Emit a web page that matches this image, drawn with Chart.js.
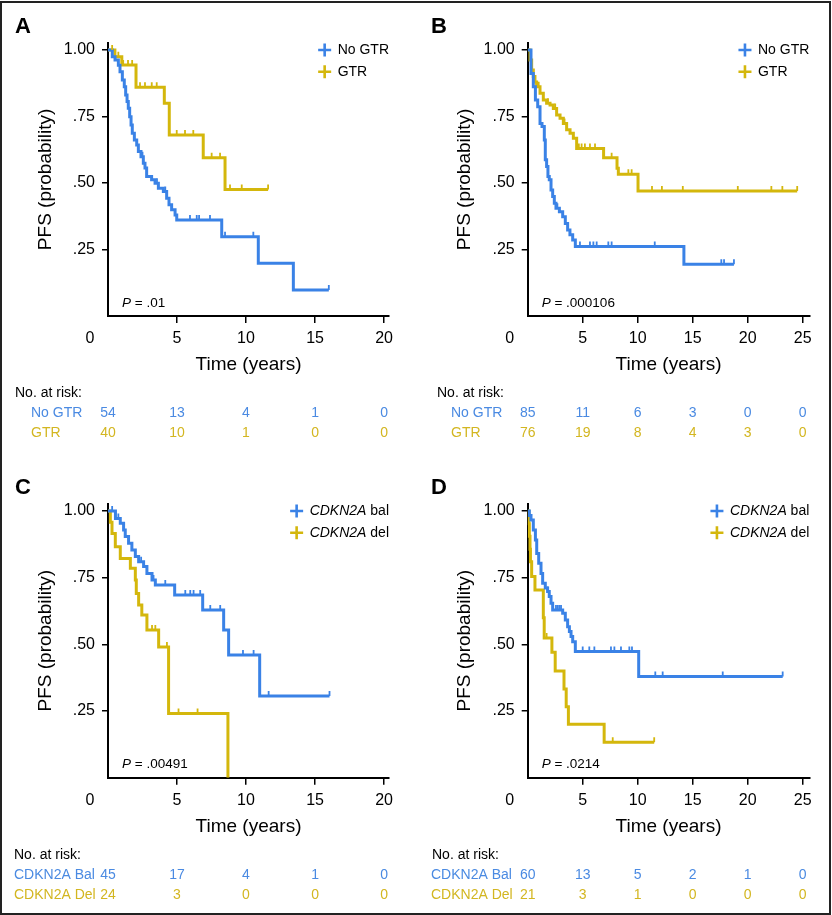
<!DOCTYPE html>
<html>
<head>
<meta charset="utf-8">
<script src="https://cdn.jsdelivr.net/npm/chart.js@4.4.0/dist/chart.umd.min.js"></script>
<style>
  body { margin: 0; background: #fff; }
  #fig { position: relative; width: 832px; height: 915px; overflow: hidden; }
  #fig canvas { position: absolute; }
  #frame { position: absolute; left: 0; top: 1px; width: 831px; height: 914px; box-sizing: border-box; border: 2px solid #222; pointer-events: none; }
</style>
</head>
<body>
<div id="fig">
  <canvas id="panelA" width="416" height="461" style="left:0;top:0;width:416px;height:461px"></canvas>
  <canvas id="panelB" width="416" height="461" style="left:416px;top:0;width:416px;height:461px"></canvas>
  <canvas id="panelC" width="416" height="454" style="left:0;top:461px;width:416px;height:454px"></canvas>
  <canvas id="panelD" width="416" height="454" style="left:416px;top:461px;width:416px;height:454px"></canvas>
  <div id="frame"></div>
</div>
<script>
// ---- axis ticks ----
const xTicks20 = [0, 5, 10, 15, 20];
const xTicks25 = [0, 5, 10, 15, 20, 25];
const yTickValues = [0.25, 0.5, 0.75, 1];
const yTickLabels = ['.25', '.50', '.75', '1.00'];

// ---- panel A: GTR vs no GTR ----
const aNoGtrTime = [0, 0.31, 0.51, 0.75, 0.87, 1.04, 1.18, 1.28, 1.38, 1.47, 1.57, 1.67, 1.76, 1.91, 2.08, 2.2, 2.39, 2.56, 2.68, 2.8, 3.16, 3.41, 3.65, 4.01, 4.25, 4.42, 4.61, 4.86, 4.98, 8.24, 10.89, 13.43, 16.0];
const aNoGtrSurv = [1, 0.975, 0.962, 0.943, 0.918, 0.887, 0.862, 0.831, 0.806, 0.781, 0.749, 0.718, 0.687, 0.662, 0.643, 0.618, 0.599, 0.574, 0.556, 0.524, 0.512, 0.499, 0.48, 0.468, 0.443, 0.418, 0.399, 0.38, 0.361, 0.298, 0.198, 0.098, 0.098];
const aNoGtrCens = [2.5, 3.55, 4.15, 5.94, 6.43, 6.6, 7.39, 8.48, 10.53, 16.0];
const aGtrTime = [0, 0.5, 1.0, 2.03, 4.08, 4.44, 6.9, 8.48, 11.6];
const aGtrSurv = [1, 0.975, 0.944, 0.86, 0.8, 0.68, 0.595, 0.476, 0.476];
const aGtrCens = [0.3, 0.75, 1.1, 1.45, 1.75, 2.32, 2.68, 3.17, 3.53, 4.98, 5.58, 6.18, 7.51, 8.12, 8.84, 9.69, 11.6];
const aRiskNoGtr = [54, 13, 4, 1, 0];
const aRiskGtr = [40, 10, 1, 0, 0];

// ---- panel B: GTR vs no GTR ----
const bNoGtrTime = [0, 0.3, 0.51, 0.7, 0.91, 1.12, 1.3, 1.51, 1.6, 1.72, 1.84, 1.96, 2.12, 2.27, 2.42, 2.57, 2.88, 3.18, 3.42, 3.63, 3.84, 4.09, 4.33, 14.2, 18.75];
const bNoGtrSurv = [1, 0.912, 0.862, 0.812, 0.787, 0.724, 0.712, 0.662, 0.587, 0.562, 0.524, 0.512, 0.474, 0.449, 0.424, 0.405, 0.392, 0.373, 0.348, 0.323, 0.305, 0.286, 0.261, 0.195, 0.195];
const bNoGtrCens = [2.7, 3.2, 4.75, 5.66, 5.97, 6.27, 7.33, 7.63, 11.55, 17.6, 17.85, 18.75];
const bGtrTime = [0, 0.21, 0.36, 0.51, 0.66, 0.81, 1.12, 1.42, 1.72, 2.03, 2.33, 2.63, 2.94, 3.24, 3.54, 3.85, 4.15, 4.45, 6.9, 8.12, 8.24, 10.03, 24.5];
const bGtrSurv = [1, 0.962, 0.925, 0.9, 0.88, 0.862, 0.837, 0.812, 0.8, 0.793, 0.78, 0.756, 0.743, 0.724, 0.7, 0.687, 0.668, 0.63, 0.595, 0.555, 0.533, 0.47, 0.47];
const bGtrCens = [1.0, 1.85, 2.5, 3.35, 4.65, 4.9, 5.2, 5.66, 6.12, 7.63, 9.15, 9.45, 11.3, 12.2, 14.1, 19.1, 22.15, 23.15, 24.5];
const bRiskNoGtr = [85, 11, 6, 3, 0, 0];
const bRiskGtr = [76, 19, 8, 4, 3, 0];

// ---- panel C: CDKN2A balanced vs deleted ----
const cBalTime = [0, 0.54, 0.89, 1.13, 1.25, 1.49, 1.73, 1.98, 2.22, 2.58, 2.82, 3.19, 3.43, 4.83, 6.86, 8.38, 8.74, 10.99, 16.05];
const cBalSurv = [1, 0.972, 0.954, 0.929, 0.904, 0.879, 0.854, 0.829, 0.81, 0.792, 0.766, 0.741, 0.723, 0.685, 0.629, 0.554, 0.46, 0.306, 0.306];
const cBalCens = [0.3, 0.75, 2.4, 3.3, 4.15, 5.6, 5.96, 6.2, 6.68, 7.41, 8.13, 9.78, 10.55, 11.64, 16.05];
const cDelTime = [0, 0.17, 0.29, 0.53, 0.89, 1.62, 1.98, 2.05, 2.22, 2.45, 2.82, 3.67, 4.39, 8.69];
const cDelSurv = [1, 0.958, 0.916, 0.866, 0.822, 0.785, 0.741, 0.691, 0.648, 0.61, 0.554, 0.49, 0.241, 0];
const cDelCens = [3.19, 3.43, 4.27, 5.11, 6.49];
const cRiskBal = [45, 17, 4, 1, 0];
const cRiskDel = [24, 3, 0, 0, 0];

// ---- panel D: CDKN2A balanced vs deleted ----
const dBalTime = [0, 0.15, 0.3, 0.51, 0.7, 0.82, 1.0, 1.21, 1.36, 1.6, 1.81, 1.96, 2.12, 2.27, 3.18, 3.42, 3.63, 3.79, 3.94, 4.09, 4.33, 10.09, 23.18];
const dBalSurv = [1, 0.983, 0.966, 0.929, 0.891, 0.841, 0.804, 0.766, 0.729, 0.711, 0.698, 0.679, 0.654, 0.629, 0.617, 0.591, 0.566, 0.548, 0.529, 0.51, 0.473, 0.379, 0.379];
const dBalCens = [1.81, 2.57, 2.73, 2.88, 3.03, 5.0, 5.6, 6.06, 7.57, 7.88, 8.48, 9.24, 9.48, 11.6, 12.27, 17.73, 23.18];
const dDelTime = [0, 0.1, 0.15, 0.21, 0.25, 0.36, 0.66, 1.42, 1.5, 2.2, 2.5, 3.3, 3.5, 3.7, 6.95, 11.5];
const dDelSurv = [1, 0.952, 0.905, 0.857, 0.81, 0.754, 0.704, 0.6, 0.524, 0.47, 0.4, 0.333, 0.266, 0.2, 0.133, 0.133];
const dDelCens = [1.72, 7.73, 11.5];
const dRiskBal = [60, 13, 5, 2, 1, 0];
const dRiskDel = [21, 3, 1, 0, 0, 0];

const pValues = ['.01', '.000106', '.00491', '.0214'];

const FONT = '"Liberation Sans", Arial, Helvetica, sans-serif';
const BLUE = '#3a82e6';
const GOLD = '#d4b70c';
const BLUE_TXT = '#4a8ae2';
const GOLD_TXT = '#d3b620';

Chart.defaults.font.family = FONT;
Chart.defaults.color = '#000';

// survival value of the step curve at time t
function survAt(times, surv, t) {
    let s = surv[0];
    for (let i = 0; i < times.length; i++) {
        if (times[i] <= t) s = surv[i];
    }
    return s;
}

function curveSet(g) {
    return {
        data: g.times.map((t, i) => ({ x: t, y: g.surv[i] })),
        borderColor: g.color,
        borderWidth: 3,
        pointRadius: 0,
        stepped: 'before',
        fill: false
    };
}

function censorSet(g) {
    return {
        data: g.cens.map(c => ({ x: c, y: survAt(g.times, g.surv, c) })),
        showLine: false,
        pointStyle: 'dash',
        pointRotation: -90,
        pointRadius: 5,
        pointBorderWidth: 1.8,
        pointBorderColor: g.color,
        pointBackgroundColor: g.color
    };
}

// letter, legend, P value, "0" label and the at-risk table
function panelDecor(p) {
    return {
        id: 'panelDecor',
        afterDraw(chart) {
            const ctx = chart.ctx;
            const area = chart.chartArea;
            const xs = chart.scales.x;
            ctx.save();
            ctx.fillStyle = '#000';
            ctx.textBaseline = 'middle';

            ctx.font = 'bold 22px ' + FONT;
            ctx.textAlign = 'left';
            ctx.fillText(p.letter, 15, 27);

            ctx.font = '16px ' + FONT;
            ctx.textAlign = 'center';
            ctx.fillText('0', xs.getPixelForValue(0) - 18, xs.top + 7 + 6 + 9.6);

            // P value
            ctx.textAlign = 'left';
            const px = area.left + 14, py = area.bottom - 13;
            ctx.font = 'italic 13.5px ' + FONT;
            ctx.fillText('P', px, py);
            const pw = ctx.measureText('P').width;
            ctx.font = '13.5px ' + FONT;
            ctx.fillText(' = ' + p.pValue, px + pw, py);

            // legend
            const widths = p.groups.map(g => {
                ctx.font = 'italic 14px ' + FONT;
                const w1 = g.legend[0] ? ctx.measureText(g.legend[0]).width : 0;
                ctx.font = '14px ' + FONT;
                return w1 + ctx.measureText(g.legend[1]).width;
            });
            const tx = area.right - Math.max(...widths);
            p.groups.forEach((g, i) => {
                const y = area.top + 7.2 + i * 21.8;
                ctx.strokeStyle = g.color;
                ctx.lineWidth = 2.6;
                ctx.beginPath();
                ctx.moveTo(tx - 19.5, y); ctx.lineTo(tx - 6.5, y);
                ctx.moveTo(tx - 13, y - 6.5); ctx.lineTo(tx - 13, y + 6.5);
                ctx.stroke();
                ctx.fillStyle = '#000';
                let x = tx;
                if (g.legend[0]) {
                    ctx.font = 'italic 14px ' + FONT;
                    ctx.fillText(g.legend[0], x, y);
                    x += ctx.measureText(g.legend[0]).width;
                }
                ctx.font = '14px ' + FONT;
                ctx.fillText(g.legend[1], x, y);
            });

            // number at risk
            ctx.font = '14px ' + FONT;
            ctx.fillStyle = '#000';
            ctx.textAlign = 'left';
            ctx.fillText('No. at risk:', p.riskTitleX, area.bottom + 77);
            p.groups.forEach((g, i) => {
                const y = area.bottom + 97 + i * 20;
                ctx.fillStyle = g.tableColor;
                ctx.textAlign = 'left';
                ctx.fillText(g.riskLabel, p.riskLabelX, y);
                ctx.textAlign = 'center';
                p.riskTimes.forEach((t, k) => {
                    ctx.fillText(String(g.risk[k]), xs.getPixelForValue(t), y);
                });
            });
            ctx.restore();
        }
    };
}

function makePanel(p) {
    const yAxisWidth = 80;
    return new Chart(document.getElementById(p.id), {
        type: 'line',
        data: {
            datasets: [
                censorSet(p.groups[0]),
                censorSet(p.groups[1]),
                curveSet(p.groups[0]),
                curveSet(p.groups[1])
            ]
        },
        options: {
            responsive: false,
            animation: false,
            events: [],
            layout: {
                padding: { left: p.chartLeft - yAxisWidth, top: 42.8, right: 416 - p.chartRight, bottom: p.bottomPad }
            },
            plugins: { legend: { display: false }, tooltip: { enabled: false } },
            scales: {
                x: {
                    type: 'linear',
                    min: 0,
                    max: p.xMax,
                    afterBuildTicks: s => { s.ticks = p.xTicks.map(v => ({ value: v })); },
                    afterFit: s => { s.height = 64.4; },
                    ticks: {
                        font: { size: 16 }, color: '#000', padding: 6,
                        maxRotation: 0, autoSkip: false,
                        callback: v => (v === 0 ? '' : String(v))
                    },
                    grid: {
                        drawOnChartArea: false, tickLength: 7, lineWidth: 1.5,
                        color: c => (c.tick && c.tick.value === 0 ? 'rgba(0,0,0,0)' : '#000')
                    },
                    border: { color: '#000', width: 2 },
                    title: { display: true, text: 'Time (years)', font: { size: 19 }, color: '#000', padding: { top: 0, bottom: 4 } }
                },
                y: {
                    type: 'linear',
                    min: 0,
                    max: 1.027,
                    afterBuildTicks: s => { s.ticks = yTickValues.map(v => ({ value: v })); },
                    afterFit: s => { s.width = yAxisWidth; },
                    ticks: {
                        font: { size: 16 }, color: '#000', padding: 7,
                        callback: v => yTickLabels[yTickValues.indexOf(v)]
                    },
                    grid: { drawOnChartArea: false, tickLength: 6, lineWidth: 1.5, color: '#000' },
                    border: { color: '#000', width: 2 },
                    title: { display: true, text: 'PFS (probability)', font: { size: 19 }, color: '#000', padding: { top: 6, bottom: 0 } }
                }
            }
        },
        plugins: [panelDecor(p)]
    });
}

const panels = [
    {
        id: 'panelA', letter: 'A', chartLeft: 108, chartRight: 389, xMax: 20.36, xTicks: xTicks20,
        bottomPad: 80.6, pValue: pValues[0], riskTimes: xTicks20, riskTitleX: 15, riskLabelX: 31,
        groups: [
            { times: aNoGtrTime, surv: aNoGtrSurv, cens: aNoGtrCens, color: BLUE, tableColor: BLUE_TXT, legend: ['', 'No GTR'], riskLabel: 'No GTR', risk: aRiskNoGtr },
            { times: aGtrTime, surv: aGtrSurv, cens: aGtrCens, color: GOLD, tableColor: GOLD_TXT, legend: ['', 'GTR'], riskLabel: 'GTR', risk: aRiskGtr }
        ]
    },
    {
        id: 'panelB', letter: 'B', chartLeft: 111.7, chartRight: 393.3, xMax: 25.6, xTicks: xTicks25,
        bottomPad: 80.6, pValue: pValues[1], riskTimes: xTicks25, riskTitleX: 21, riskLabelX: 35,
        groups: [
            { times: bNoGtrTime, surv: bNoGtrSurv, cens: bNoGtrCens, color: BLUE, tableColor: BLUE_TXT, legend: ['', 'No GTR'], riskLabel: 'No GTR', risk: bRiskNoGtr },
            { times: bGtrTime, surv: bGtrSurv, cens: bGtrCens, color: GOLD, tableColor: GOLD_TXT, legend: ['', 'GTR'], riskLabel: 'GTR', risk: bRiskGtr }
        ]
    },
    {
        id: 'panelC', letter: 'C', chartLeft: 108, chartRight: 389, xMax: 20.36, xTicks: xTicks20,
        bottomPad: 72.9, pValue: pValues[2], riskTimes: xTicks20, riskTitleX: 14, riskLabelX: 14,
        groups: [
            { times: cBalTime, surv: cBalSurv, cens: cBalCens, color: BLUE, tableColor: BLUE_TXT, legend: ['CDKN2A', ' bal'], riskLabel: 'CDKN2A Bal', risk: cRiskBal },
            { times: cDelTime, surv: cDelSurv, cens: cDelCens, color: GOLD, tableColor: GOLD_TXT, legend: ['CDKN2A', ' del'], riskLabel: 'CDKN2A Del', risk: cRiskDel }
        ]
    },
    {
        id: 'panelD', letter: 'D', chartLeft: 111.7, chartRight: 393.3, xMax: 25.6, xTicks: xTicks25,
        bottomPad: 72.9, pValue: pValues[3], riskTimes: xTicks25, riskTitleX: 16, riskLabelX: 15,
        groups: [
            { times: dBalTime, surv: dBalSurv, cens: dBalCens, color: BLUE, tableColor: BLUE_TXT, legend: ['CDKN2A', ' bal'], riskLabel: 'CDKN2A Bal', risk: dRiskBal },
            { times: dDelTime, surv: dDelSurv, cens: dDelCens, color: GOLD, tableColor: GOLD_TXT, legend: ['CDKN2A', ' del'], riskLabel: 'CDKN2A Del', risk: dRiskDel }
        ]
    }
];

panels.forEach(makePanel);
</script>
</body>
</html>
